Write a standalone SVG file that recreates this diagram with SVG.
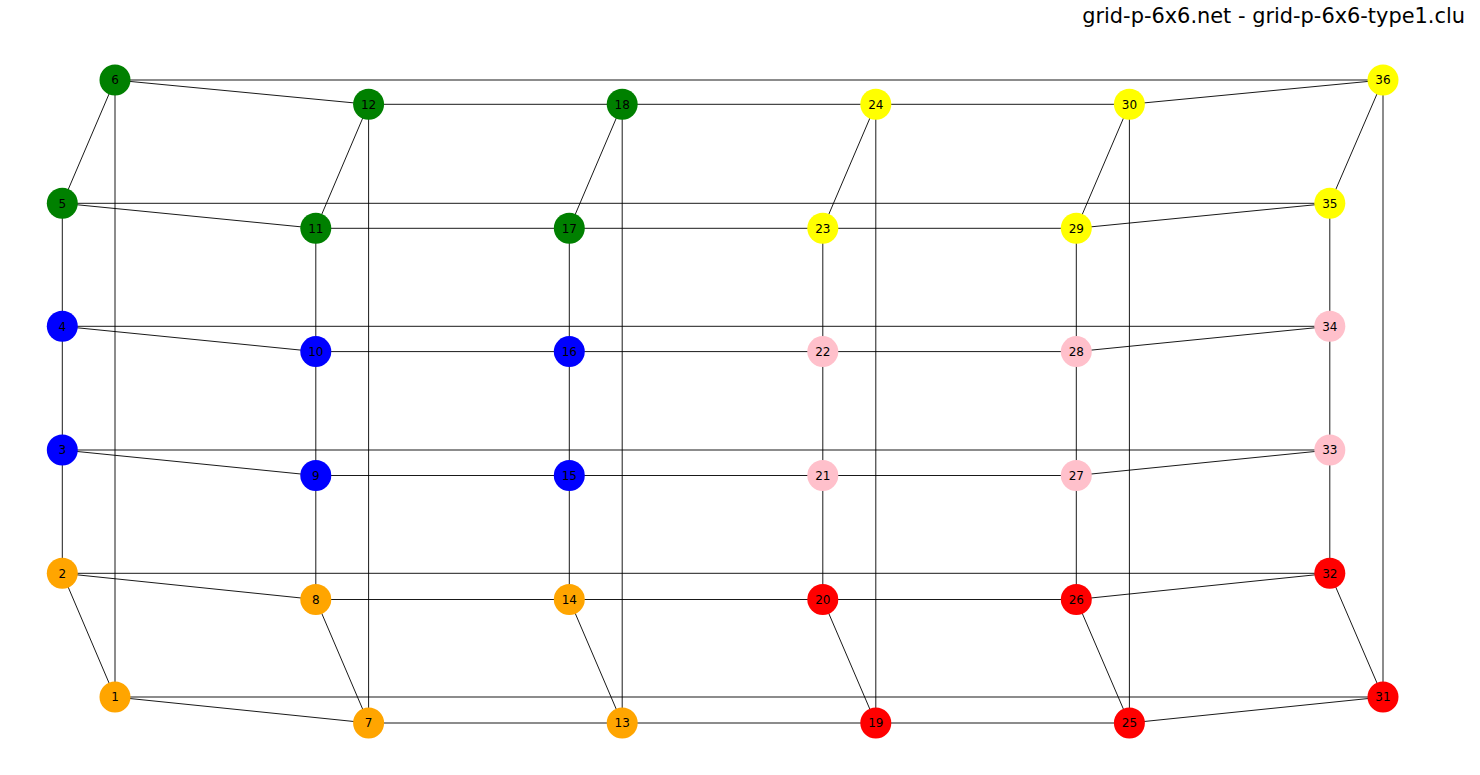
<svg xmlns="http://www.w3.org/2000/svg" width="1480" height="775" viewBox="0 0 1480 775">
<style>
.e line{stroke:#000;stroke-width:1;stroke-opacity:0.9}
.n text{font-family:"DejaVu Sans",sans-serif;font-size:12px;text-anchor:middle;fill:#000}
.or{fill:#ffa500}.bl{fill:#0000ff}.gr{fill:#008000}.rd{fill:#ff0000}.pk{fill:#ffc0cb}.ye{fill:#ffff00}
.title{font-family:"DejaVu Sans",sans-serif;font-size:20.9px;text-anchor:end;fill:#000}
</style>
<rect width="1480" height="775" fill="#fff"/>
<text class="title" x="1465" y="23">grid-p-6x6.net - grid-p-6x6-type1.clu</text>
<g id="edges" class="e">
<line x1="115" y1="697" x2="62.3" y2="573.3"/>
<line x1="62.3" y1="573.3" x2="62.3" y2="450"/>
<line x1="62.3" y1="450" x2="62.3" y2="326.3"/>
<line x1="62.3" y1="326.3" x2="62.3" y2="203.3"/>
<line x1="62.3" y1="203.3" x2="115" y2="80"/>
<line x1="115" y1="80" x2="115" y2="697"/>
<line x1="368.6" y1="723" x2="315.8" y2="599.5"/>
<line x1="315.8" y1="599.5" x2="315.8" y2="475.5"/>
<line x1="315.8" y1="475.5" x2="315.8" y2="351.6"/>
<line x1="315.8" y1="351.6" x2="315.8" y2="228.3"/>
<line x1="315.8" y1="228.3" x2="368.6" y2="104.3"/>
<line x1="368.6" y1="104.3" x2="368.6" y2="723"/>
<line x1="622.2" y1="723" x2="569.3" y2="599.5"/>
<line x1="569.3" y1="599.5" x2="569.3" y2="475.5"/>
<line x1="569.3" y1="475.5" x2="569.3" y2="351.6"/>
<line x1="569.3" y1="351.6" x2="569.3" y2="228.3"/>
<line x1="569.3" y1="228.3" x2="622.2" y2="104.3"/>
<line x1="622.2" y1="104.3" x2="622.2" y2="723"/>
<line x1="875.8" y1="723" x2="822.8" y2="599.5"/>
<line x1="822.8" y1="599.5" x2="822.8" y2="475.5"/>
<line x1="822.8" y1="475.5" x2="822.8" y2="351.6"/>
<line x1="822.8" y1="351.6" x2="822.8" y2="228.3"/>
<line x1="822.8" y1="228.3" x2="875.8" y2="104.3"/>
<line x1="875.8" y1="104.3" x2="875.8" y2="723"/>
<line x1="1129.4" y1="723" x2="1076.3" y2="599.5"/>
<line x1="1076.3" y1="599.5" x2="1076.3" y2="475.5"/>
<line x1="1076.3" y1="475.5" x2="1076.3" y2="351.6"/>
<line x1="1076.3" y1="351.6" x2="1076.3" y2="228.3"/>
<line x1="1076.3" y1="228.3" x2="1129.4" y2="104.3"/>
<line x1="1129.4" y1="104.3" x2="1129.4" y2="723"/>
<line x1="1383" y1="697" x2="1329.8" y2="573.3"/>
<line x1="1329.8" y1="573.3" x2="1329.8" y2="450"/>
<line x1="1329.8" y1="450" x2="1329.8" y2="326.3"/>
<line x1="1329.8" y1="326.3" x2="1329.8" y2="203.3"/>
<line x1="1329.8" y1="203.3" x2="1383" y2="80"/>
<line x1="1383" y1="80" x2="1383" y2="697"/>
<line x1="115" y1="697" x2="368.6" y2="723"/>
<line x1="368.6" y1="723" x2="622.2" y2="723"/>
<line x1="622.2" y1="723" x2="875.8" y2="723"/>
<line x1="875.8" y1="723" x2="1129.4" y2="723"/>
<line x1="1129.4" y1="723" x2="1383" y2="697"/>
<line x1="115" y1="697" x2="1383" y2="697"/>
<line x1="62.3" y1="573.3" x2="315.8" y2="599.5"/>
<line x1="315.8" y1="599.5" x2="569.3" y2="599.5"/>
<line x1="569.3" y1="599.5" x2="822.8" y2="599.5"/>
<line x1="822.8" y1="599.5" x2="1076.3" y2="599.5"/>
<line x1="1076.3" y1="599.5" x2="1329.8" y2="573.3"/>
<line x1="62.3" y1="573.3" x2="1329.8" y2="573.3"/>
<line x1="62.3" y1="450" x2="315.8" y2="475.5"/>
<line x1="315.8" y1="475.5" x2="569.3" y2="475.5"/>
<line x1="569.3" y1="475.5" x2="822.8" y2="475.5"/>
<line x1="822.8" y1="475.5" x2="1076.3" y2="475.5"/>
<line x1="1076.3" y1="475.5" x2="1329.8" y2="450"/>
<line x1="62.3" y1="450" x2="1329.8" y2="450"/>
<line x1="62.3" y1="326.3" x2="315.8" y2="351.6"/>
<line x1="315.8" y1="351.6" x2="569.3" y2="351.6"/>
<line x1="569.3" y1="351.6" x2="822.8" y2="351.6"/>
<line x1="822.8" y1="351.6" x2="1076.3" y2="351.6"/>
<line x1="1076.3" y1="351.6" x2="1329.8" y2="326.3"/>
<line x1="62.3" y1="326.3" x2="1329.8" y2="326.3"/>
<line x1="62.3" y1="203.3" x2="315.8" y2="228.3"/>
<line x1="315.8" y1="228.3" x2="569.3" y2="228.3"/>
<line x1="569.3" y1="228.3" x2="822.8" y2="228.3"/>
<line x1="822.8" y1="228.3" x2="1076.3" y2="228.3"/>
<line x1="1076.3" y1="228.3" x2="1329.8" y2="203.3"/>
<line x1="62.3" y1="203.3" x2="1329.8" y2="203.3"/>
<line x1="115" y1="80" x2="368.6" y2="104.3"/>
<line x1="368.6" y1="104.3" x2="622.2" y2="104.3"/>
<line x1="622.2" y1="104.3" x2="875.8" y2="104.3"/>
<line x1="875.8" y1="104.3" x2="1129.4" y2="104.3"/>
<line x1="1129.4" y1="104.3" x2="1383" y2="80"/>
<line x1="115" y1="80" x2="1383" y2="80"/>
</g>
<g id="n1" class="n"><circle class="or" cx="115" cy="697" r="15.5"/><text x="115" y="701.2">1</text></g>
<g id="n2" class="n"><circle class="or" cx="62.3" cy="573.3" r="15.5"/><text x="62.3" y="577.5">2</text></g>
<g id="n3" class="n"><circle class="bl" cx="62.3" cy="450" r="15.5"/><text x="62.3" y="454.2">3</text></g>
<g id="n4" class="n"><circle class="bl" cx="62.3" cy="326.3" r="15.5"/><text x="62.3" y="330.5">4</text></g>
<g id="n5" class="n"><circle class="gr" cx="62.3" cy="203.3" r="15.5"/><text x="62.3" y="207.5">5</text></g>
<g id="n6" class="n"><circle class="gr" cx="115" cy="80" r="15.5"/><text x="115" y="84.2">6</text></g>
<g id="n7" class="n"><circle class="or" cx="368.6" cy="723" r="15.5"/><text x="368.6" y="727.2">7</text></g>
<g id="n8" class="n"><circle class="or" cx="315.8" cy="599.5" r="15.5"/><text x="315.8" y="603.7">8</text></g>
<g id="n9" class="n"><circle class="bl" cx="315.8" cy="475.5" r="15.5"/><text x="315.8" y="479.7">9</text></g>
<g id="n10" class="n"><circle class="bl" cx="315.8" cy="351.6" r="15.5"/><text x="315.8" y="355.8">10</text></g>
<g id="n11" class="n"><circle class="gr" cx="315.8" cy="228.3" r="15.5"/><text x="315.8" y="232.5">11</text></g>
<g id="n12" class="n"><circle class="gr" cx="368.6" cy="104.3" r="15.5"/><text x="368.6" y="108.5">12</text></g>
<g id="n13" class="n"><circle class="or" cx="622.2" cy="723" r="15.5"/><text x="622.2" y="727.2">13</text></g>
<g id="n14" class="n"><circle class="or" cx="569.3" cy="599.5" r="15.5"/><text x="569.3" y="603.7">14</text></g>
<g id="n15" class="n"><circle class="bl" cx="569.3" cy="475.5" r="15.5"/><text x="569.3" y="479.7">15</text></g>
<g id="n16" class="n"><circle class="bl" cx="569.3" cy="351.6" r="15.5"/><text x="569.3" y="355.8">16</text></g>
<g id="n17" class="n"><circle class="gr" cx="569.3" cy="228.3" r="15.5"/><text x="569.3" y="232.5">17</text></g>
<g id="n18" class="n"><circle class="gr" cx="622.2" cy="104.3" r="15.5"/><text x="622.2" y="108.5">18</text></g>
<g id="n19" class="n"><circle class="rd" cx="875.8" cy="723" r="15.5"/><text x="875.8" y="727.2">19</text></g>
<g id="n20" class="n"><circle class="rd" cx="822.8" cy="599.5" r="15.5"/><text x="822.8" y="603.7">20</text></g>
<g id="n21" class="n"><circle class="pk" cx="822.8" cy="475.5" r="15.5"/><text x="822.8" y="479.7">21</text></g>
<g id="n22" class="n"><circle class="pk" cx="822.8" cy="351.6" r="15.5"/><text x="822.8" y="355.8">22</text></g>
<g id="n23" class="n"><circle class="ye" cx="822.8" cy="228.3" r="15.5"/><text x="822.8" y="232.5">23</text></g>
<g id="n24" class="n"><circle class="ye" cx="875.8" cy="104.3" r="15.5"/><text x="875.8" y="108.5">24</text></g>
<g id="n25" class="n"><circle class="rd" cx="1129.4" cy="723" r="15.5"/><text x="1129.4" y="727.2">25</text></g>
<g id="n26" class="n"><circle class="rd" cx="1076.3" cy="599.5" r="15.5"/><text x="1076.3" y="603.7">26</text></g>
<g id="n27" class="n"><circle class="pk" cx="1076.3" cy="475.5" r="15.5"/><text x="1076.3" y="479.7">27</text></g>
<g id="n28" class="n"><circle class="pk" cx="1076.3" cy="351.6" r="15.5"/><text x="1076.3" y="355.8">28</text></g>
<g id="n29" class="n"><circle class="ye" cx="1076.3" cy="228.3" r="15.5"/><text x="1076.3" y="232.5">29</text></g>
<g id="n30" class="n"><circle class="ye" cx="1129.4" cy="104.3" r="15.5"/><text x="1129.4" y="108.5">30</text></g>
<g id="n31" class="n"><circle class="rd" cx="1383" cy="697" r="15.5"/><text x="1383" y="701.2">31</text></g>
<g id="n32" class="n"><circle class="rd" cx="1329.8" cy="573.3" r="15.5"/><text x="1329.8" y="577.5">32</text></g>
<g id="n33" class="n"><circle class="pk" cx="1329.8" cy="450" r="15.5"/><text x="1329.8" y="454.2">33</text></g>
<g id="n34" class="n"><circle class="pk" cx="1329.8" cy="326.3" r="15.5"/><text x="1329.8" y="330.5">34</text></g>
<g id="n35" class="n"><circle class="ye" cx="1329.8" cy="203.3" r="15.5"/><text x="1329.8" y="207.5">35</text></g>
<g id="n36" class="n"><circle class="ye" cx="1383" cy="80" r="15.5"/><text x="1383" y="84.2">36</text></g>
</svg>
